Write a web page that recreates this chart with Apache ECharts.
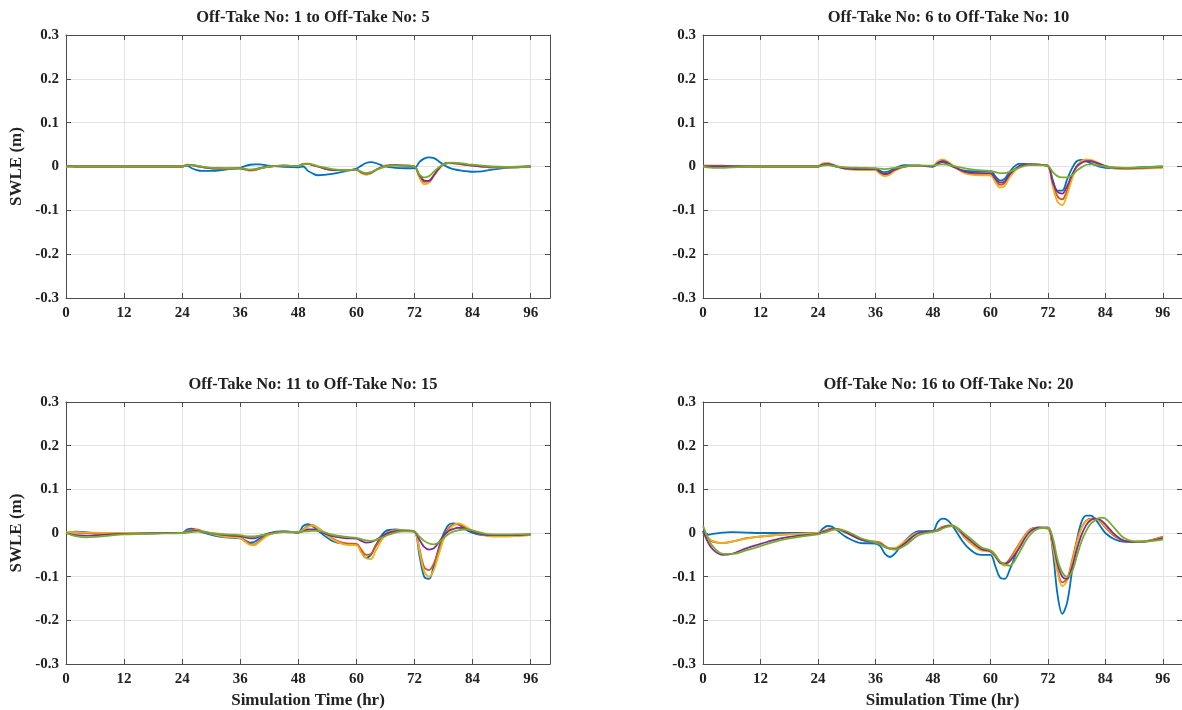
<!DOCTYPE html>
<html>
<head>
<meta charset="utf-8">
<script src="https://cdn.jsdelivr.net/npm/echarts@6/dist/echarts.min.js"></script>
<style>
  html, body { margin: 0; padding: 0; background: #fff; }
  #chart { width: 1182px; height: 710px; }
</style>
</head>
<body>
<div id="chart"></div>
<script>
const titles = [
  'Off-Take No: 1 to Off-Take No: 5',
  'Off-Take No: 6 to Off-Take No: 10',
  'Off-Take No: 11 to Off-Take No: 15',
  'Off-Take No: 16 to Off-Take No: 20'
]
const colors = ['#0072BD', '#D95319', '#EDB120', '#7E2F8E', '#77AC30']

const hours = [0, 1, 2, 4, 6, 9, 12, 16, 20, 24, 25, 26, 27, 28, 30, 33, 36, 37, 38, 39, 40, 42, 45, 48, 49, 50, 51, 52, 55, 58, 60, 61, 62, 63, 64, 66, 68, 70, 72, 73, 74, 75, 76, 77, 78, 79, 80, 81, 82, 83, 84, 86, 88, 91, 96]

// Off-Take 1 to 5
const p1Blue = [0.001, 0.001, 0, 0, 0, 0, 0, 0, 0, 0, 0.002, -0.004, -0.008, -0.010, -0.010, -0.007, -0.003, 0.001, 0.004, 0.005, 0.005, 0.002, -0.001, -0.002, 0.0, -0.010, -0.016, -0.020, -0.017, -0.010, -0.005, 0.002, 0.008, 0.010, 0.008, 0.0, -0.003, -0.004, -0.004, 0.010, 0.018, 0.021, 0.019, 0.012, 0.004, -0.002, -0.006, -0.008, -0.010, -0.011, -0.012, -0.011, -0.007, -0.003, 0]
const p1Orange = [0, 0, 0, 0, 0, 0, 0, 0, 0, 0, 0.004, 0.003, 0.001, -0.001, -0.004, -0.005, -0.004, -0.007, -0.009, -0.008, -0.005, 0.0, 0.002, 0.001, 0.006, 0.006, 0.003, 0.0, -0.008, -0.008, -0.007, -0.014, -0.018, -0.015, -0.008, 0.002, 0.003, 0.002, 0.0, -0.022, -0.035, -0.033, -0.020, -0.006, 0.005, 0.008, 0.007, 0.006, 0.005, 0.003, 0.002, 0.0, -0.002, -0.002, 0]
const p1Yellow = [0, 0, 0, 0, 0, 0, 0, 0, 0, 0, 0.004, 0.003, 0.001, -0.001, -0.004, -0.005, -0.004, -0.007, -0.009, -0.008, -0.005, 0.0, 0.002, 0.001, 0.006, 0.007, 0.004, 0.0, -0.008, -0.009, -0.008, -0.015, -0.019, -0.016, -0.009, 0.002, 0.003, 0.002, 0.0, -0.025, -0.040, -0.037, -0.022, -0.006, 0.006, 0.009, 0.008, 0.007, 0.006, 0.004, 0.002, 0.0, -0.002, -0.002, 0]
const p1Purple = [0.001, 0.001, 0, 0, 0, 0, 0, 0, 0, 0, 0.003, 0.003, 0.001, -0.001, -0.004, -0.005, -0.004, -0.006, -0.008, -0.007, -0.004, 0.0, 0.002, 0.001, 0.005, 0.006, 0.003, 0.0, -0.008, -0.008, -0.007, -0.013, -0.016, -0.014, -0.008, 0.001, 0.003, 0.002, 0.0, -0.020, -0.032, -0.033, -0.020, -0.005, 0.005, 0.008, 0.008, 0.007, 0.005, 0.004, 0.002, 0.0, -0.001, -0.001, 0]
const p1Green = [0, 0, 0, 0, 0, 0, 0, 0, 0, 0, 0.003, 0.003, 0.002, 0.0, -0.003, -0.004, -0.004, -0.006, -0.007, -0.006, -0.004, 0.0, 0.002, 0.001, 0.005, 0.006, 0.004, 0.001, -0.006, -0.008, -0.007, -0.012, -0.015, -0.013, -0.008, 0.0, 0.002, 0.002, 0.0, -0.018, -0.025, -0.022, -0.012, -0.002, 0.005, 0.008, 0.009, 0.008, 0.007, 0.005, 0.004, 0.002, 0.0, -0.001, 0]

// Off-Take 6 to 10
const p2Blue = [0.001, 0.001, 0.001, 0.001, 0, 0, 0, 0, 0, 0, 0.004, 0.005, 0.002, -0.001, -0.004, -0.005, -0.005, -0.010, -0.013, -0.010, -0.004, 0.003, 0.002, 0.0, 0.006, 0.010, 0.006, 0.0, -0.010, -0.011, -0.010, -0.022, -0.032, -0.028, -0.012, 0.006, 0.006, 0.004, 0.002, -0.030, -0.055, -0.055, -0.030, -0.005, 0.012, 0.015, 0.012, 0.007, 0.003, -0.001, -0.003, -0.004, -0.004, -0.002, 0]
const p2Orange = [0.002, 0.002, 0.002, 0.002, 0.001, 0, 0, 0, 0, 0, 0.006, 0.007, 0.004, 0.0, -0.005, -0.007, -0.007, -0.015, -0.019, -0.016, -0.008, 0.0, 0.002, 0.001, 0.010, 0.013, 0.009, 0.002, -0.015, -0.018, -0.017, -0.030, -0.042, -0.038, -0.020, 0.0, 0.005, 0.004, 0.001, -0.040, -0.068, -0.075, -0.055, -0.025, 0.0, 0.012, 0.015, 0.013, 0.009, 0.004, 0.0, -0.003, -0.004, -0.004, -0.002]
const p2Yellow = [0.001, 0.001, 0.001, 0.001, 0.001, 0, 0, 0, 0, 0, 0.007, 0.008, 0.005, 0.0, -0.006, -0.008, -0.008, -0.017, -0.022, -0.019, -0.010, -0.001, 0.002, 0.001, 0.012, 0.016, 0.012, 0.004, -0.017, -0.020, -0.020, -0.035, -0.048, -0.044, -0.025, -0.002, 0.005, 0.004, 0.001, -0.045, -0.080, -0.088, -0.065, -0.030, -0.002, 0.012, 0.016, 0.015, 0.011, 0.006, 0.001, -0.004, -0.006, -0.005, -0.003]
const p2Purple = [0.001, 0.001, 0.001, 0.001, 0.001, 0, 0, 0, 0, 0, 0.005, 0.006, 0.004, 0.0, -0.005, -0.006, -0.006, -0.013, -0.017, -0.014, -0.007, 0.0, 0.002, 0.0, 0.008, 0.012, 0.009, 0.002, -0.013, -0.015, -0.015, -0.027, -0.037, -0.034, -0.018, 0.001, 0.005, 0.004, 0.001, -0.035, -0.058, -0.062, -0.045, -0.020, 0.0, 0.008, 0.012, 0.012, 0.009, 0.005, 0.001, -0.003, -0.004, -0.003, -0.001]
const p2Green = [0, -0.002, -0.003, -0.003, -0.002, -0.001, 0, 0, 0, 0, 0.002, 0.003, 0.002, 0.0, -0.002, -0.003, -0.004, -0.005, -0.006, -0.005, -0.003, 0.0, 0.002, 0.002, 0.004, 0.005, 0.004, 0.002, -0.005, -0.009, -0.010, -0.013, -0.015, -0.015, -0.012, -0.003, 0.003, 0.003, 0.001, -0.012, -0.022, -0.025, -0.025, -0.020, -0.010, -0.002, 0.004, 0.005, 0.004, 0.002, 0.0, -0.002, -0.003, -0.002, 0]

// Off-Take 11 to 15
const p3Blue = [0, 0.002, 0.003, 0.002, 0.0, -0.001, -0.002, -0.001, 0, 0, 0.008, 0.010, 0.006, 0.002, -0.004, -0.010, -0.012, -0.017, -0.022, -0.020, -0.012, 0.0, 0.004, 0.001, 0.016, 0.020, 0.015, 0.006, -0.018, -0.025, -0.026, -0.042, -0.057, -0.050, -0.028, 0.004, 0.008, 0.006, 0.003, -0.050, -0.100, -0.105, -0.075, -0.035, -0.002, 0.018, 0.022, 0.020, 0.013, 0.005, 0.0, -0.005, -0.006, -0.006, -0.003]
const p3Orange = [0.001, 0.001, 0.001, 0.0, 0.0, -0.001, -0.001, -0.001, 0, 0, 0.004, 0.007, 0.008, 0.005, -0.001, -0.008, -0.010, -0.018, -0.025, -0.026, -0.017, -0.003, 0.003, 0.002, 0.008, 0.016, 0.018, 0.012, -0.012, -0.024, -0.025, -0.038, -0.050, -0.048, -0.030, -0.002, 0.006, 0.006, 0.003, -0.035, -0.078, -0.085, -0.070, -0.040, -0.010, 0.010, 0.019, 0.020, 0.016, 0.009, 0.003, -0.004, -0.007, -0.007, -0.004]
const p3Yellow = [0.002, 0.002, 0.002, 0.001, 0.001, 0.0, 0, 0, 0, 0, 0.003, 0.005, 0.006, 0.004, -0.002, -0.009, -0.012, -0.020, -0.027, -0.028, -0.020, -0.004, 0.003, 0.002, 0.007, 0.014, 0.017, 0.012, -0.014, -0.027, -0.028, -0.045, -0.058, -0.060, -0.040, -0.005, 0.006, 0.006, 0.003, -0.040, -0.088, -0.100, -0.085, -0.050, -0.015, 0.006, 0.017, 0.022, 0.019, 0.012, 0.005, -0.004, -0.008, -0.008, -0.005]
const p3Purple = [0, -0.003, -0.005, -0.006, -0.005, -0.003, -0.002, -0.001, 0, 0, 0.002, 0.004, 0.005, 0.003, -0.001, -0.005, -0.007, -0.010, -0.012, -0.012, -0.008, -0.001, 0.002, 0.001, 0.004, 0.008, 0.008, 0.005, -0.007, -0.012, -0.013, -0.018, -0.022, -0.021, -0.016, -0.003, 0.004, 0.005, 0.003, -0.015, -0.032, -0.038, -0.035, -0.022, -0.006, 0.004, 0.009, 0.012, 0.011, 0.008, 0.003, -0.003, -0.005, -0.005, -0.003]
const p3Green = [0, -0.004, -0.007, -0.010, -0.009, -0.006, -0.003, -0.002, -0.001, 0, 0.001, 0.002, 0.003, 0.003, 0.0, -0.003, -0.005, -0.007, -0.008, -0.008, -0.006, -0.002, 0.002, 0.002, 0.003, 0.004, 0.005, 0.005, -0.004, -0.009, -0.011, -0.014, -0.017, -0.018, -0.016, -0.007, 0.001, 0.004, 0.003, -0.008, -0.018, -0.024, -0.026, -0.022, -0.012, -0.003, 0.003, 0.006, 0.008, 0.008, 0.006, 0.0, -0.003, -0.003, -0.002]

// Off-Take 16 to 20
const p4Blue = [0.005, -0.004, -0.002, 0.001, 0.002, 0.001, 0.0, 0, 0, 0, 0.010, 0.016, 0.014, 0.006, -0.010, -0.023, -0.024, -0.030, -0.048, -0.055, -0.048, -0.020, 0.004, 0.005, 0.025, 0.033, 0.030, 0.018, -0.030, -0.050, -0.050, -0.075, -0.102, -0.105, -0.085, -0.030, 0.005, 0.012, 0.012, -0.040, -0.140, -0.185, -0.160, -0.090, -0.020, 0.025, 0.040, 0.040, 0.030, 0.015, 0.0, -0.015, -0.020, -0.020, -0.010]
const p4Orange = [0, -0.012, -0.020, -0.023, -0.020, -0.012, -0.008, -0.004, -0.002, 0, 0.004, 0.008, 0.010, 0.009, 0.0, -0.015, -0.020, -0.022, -0.030, -0.035, -0.035, -0.022, 0.0, 0.003, 0.008, 0.014, 0.017, 0.017, -0.015, -0.038, -0.040, -0.050, -0.066, -0.070, -0.060, -0.025, 0.005, 0.012, 0.010, -0.030, -0.085, -0.113, -0.105, -0.065, -0.020, 0.012, 0.028, 0.033, 0.033, 0.025, 0.013, -0.008, -0.018, -0.020, -0.008]
const p4Yellow = [0.002, -0.010, -0.018, -0.023, -0.020, -0.013, -0.008, -0.004, -0.002, 0, 0.003, 0.006, 0.008, 0.008, 0.0, -0.015, -0.021, -0.024, -0.032, -0.036, -0.035, -0.020, 0.001, 0.002, 0.007, 0.013, 0.017, 0.018, -0.015, -0.040, -0.043, -0.055, -0.068, -0.075, -0.065, -0.028, 0.004, 0.012, 0.010, -0.030, -0.090, -0.122, -0.110, -0.070, -0.025, 0.010, 0.027, 0.032, 0.033, 0.027, 0.015, -0.006, -0.018, -0.020, -0.010]
const p4Purple = [0.005, -0.020, -0.037, -0.050, -0.048, -0.035, -0.025, -0.013, -0.006, -0.002, 0.002, 0.005, 0.009, 0.009, 0.001, -0.015, -0.022, -0.025, -0.032, -0.036, -0.037, -0.025, 0.0, 0.004, 0.006, 0.012, 0.016, 0.017, -0.010, -0.036, -0.042, -0.052, -0.068, -0.070, -0.065, -0.035, 0.0, 0.012, 0.012, -0.020, -0.070, -0.100, -0.105, -0.080, -0.040, -0.005, 0.018, 0.030, 0.033, 0.030, 0.020, -0.004, -0.018, -0.021, -0.012]
const p4Green = [0.017, -0.010, -0.030, -0.047, -0.048, -0.040, -0.030, -0.017, -0.009, -0.003, 0.0, 0.003, 0.007, 0.009, 0.004, -0.012, -0.022, -0.026, -0.032, -0.036, -0.038, -0.030, -0.005, 0.003, 0.005, 0.010, 0.014, 0.016, -0.005, -0.032, -0.040, -0.050, -0.065, -0.072, -0.075, -0.045, -0.008, 0.010, 0.012, -0.010, -0.060, -0.090, -0.100, -0.090, -0.055, -0.020, 0.005, 0.022, 0.030, 0.035, 0.033, 0.010, -0.012, -0.020, -0.015]

const panels = [
  [p1Blue, p1Orange, p1Yellow, p1Purple, p1Green],
  [p2Blue, p2Orange, p2Yellow, p2Purple, p2Green],
  [p3Blue, p3Orange, p3Yellow, p3Purple, p3Green],
  [p4Blue, p4Orange, p4Yellow, p4Purple, p4Green]
]

const grids = [
  { left: 66, top: 35, width: 484, height: 263 },
  { left: 703, top: 35, width: 481, height: 263 },
  { left: 66, top: 402, width: 484, height: 263 },
  { left: 703, top: 402, width: 481, height: 263 }
]

const font = 'Liberation Serif'
const axisColor = '#4d4d4d'
const lineStyle = { color: axisColor, width: 1 }

const chart = echarts.init(document.getElementById('chart'))

const xAxis = []
const yAxis = []
const series = []
const title = []

grids.forEach((g, i) => {
  title.push({
    text: titles[i],
    left: g.left + g.width / 2,
    top: g.top - 31,
    textAlign: 'center',
    textStyle: { fontFamily: font, fontWeight: 'bold', fontSize: 16.5, color: '#222' }
  })
  const bottomRow = i >= 2
  const leftCol = i % 2 === 0
  xAxis.push({
    type: 'value', gridIndex: i, min: 0, max: 100, interval: 12, position: 'bottom',
    name: bottomRow ? 'Simulation Time (hr)' : '',
    nameLocation: 'middle', nameGap: 28,
    nameTextStyle: { fontFamily: font, fontWeight: 'bold', fontSize: 17, color: '#222' },
    axisLine: { show: true, onZero: false, lineStyle },
    axisTick: { show: true, inside: true, length: 5, lineStyle },
    axisLabel: { fontFamily: font, fontWeight: 'bold', fontSize: 15, color: '#222', margin: 8, showMaxLabel: false },
    splitLine: { show: true, lineStyle: { color: '#e3e3e3', width: 1 } }
  })
  xAxis.push({
    type: 'value', gridIndex: i, min: 0, max: 100, interval: 12, position: 'top',
    axisLine: { show: true, onZero: false, lineStyle },
    axisTick: { show: true, inside: true, length: 5, lineStyle },
    axisLabel: { show: false },
    splitLine: { show: false }
  })
  yAxis.push({
    type: 'value', gridIndex: i, min: -0.3, max: 0.3, interval: 0.1, position: 'left',
    name: leftCol ? 'SWLE (m)' : '',
    nameLocation: 'middle', nameGap: 41,
    nameTextStyle: { fontFamily: font, fontWeight: 'bold', fontSize: 17, color: '#222' },
    axisLine: { show: true, onZero: false, lineStyle },
    axisTick: { show: true, inside: true, length: 5, lineStyle },
    axisLabel: {
      fontFamily: font, fontWeight: 'bold', fontSize: 15, color: '#222', margin: 7,
      formatter: (v) => String(Math.round(v * 10) / 10)
    },
    splitLine: { show: true, lineStyle: { color: '#e3e3e3', width: 1 } }
  })
  yAxis.push({
    type: 'value', gridIndex: i, min: -0.3, max: 0.3, interval: 0.1, position: 'right',
    axisLine: { show: true, onZero: false, lineStyle },
    axisTick: { show: true, inside: true, length: 5, lineStyle },
    axisLabel: { show: false },
    splitLine: { show: false }
  })
  panels[i].forEach((vals, k) => {
    series.push({
      type: 'line',
      xAxisIndex: i * 2,
      yAxisIndex: i * 2,
      data: hours.map((h, j) => [h, vals[j]]),
      smooth: 0.35,
      symbol: 'none',
      color: colors[k],
      lineStyle: { width: 1.8, color: colors[k] },
      silent: true
    })
  })
})

chart.setOption({
  animation: false,
  backgroundColor: '#fff',
  title,
  grid: grids,
  xAxis,
  yAxis,
  series
})
</script>
</body>
</html>
